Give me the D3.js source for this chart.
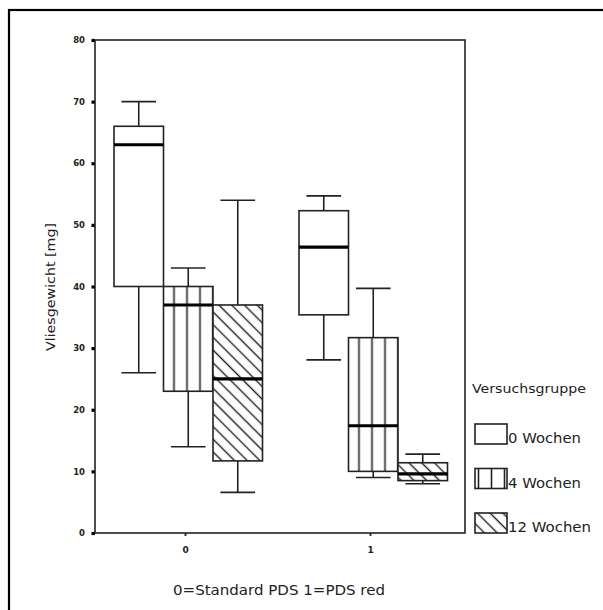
<!DOCTYPE html>
<html>
<head>
<meta charset="utf-8">
<script src="https://cdn.jsdelivr.net/npm/d3@7"></script>
<style>
  body { margin: 0; background: #fff; }
  svg { display: block; }
  text { font-family: "DejaVu Sans", sans-serif; fill: #222; }
</style>
</head>
<body>
<figure id="boxChart" style="margin:0"></figure>
<script>
// groups on the x axis and the three test series
const groups = ['0', '1'];
const series = ['0 Wochen', '4 Wochen', '12 Wochen'];
const yTicks = [0, 10, 20, 30, 40, 50, 60, 70, 80];

// box statistics, one row per series, one value per group
const whiskerLow = [[26, 28.1], [14, 9], [6.6, 8]];
const q1 = [[40, 35.4], [23, 10], [11.7, 8.5]];
const median = [[63, 46.4], [37, 17.4], [25, 9.6]];
const q3 = [[66, 52.3], [40, 31.7], [37, 11.4]];
const whiskerHigh = [[70, 54.7], [43, 39.7], [54, 12.8]];

const W = 603, H = 610;
const plot = { left: 95, right: 465, top: 40, bottom: 533 };
const ink = '#222';

const svg = d3.select('figure#boxChart')
  .append('svg')
  .attr('width', W)
  .attr('height', H);

// fill patterns
const defs = svg.append('defs');
const vert = defs.append('pattern')
  .attr('id', 'vert')
  .attr('patternUnits', 'userSpaceOnUse')
  .attr('x', 4)
  .attr('width', 13)
  .attr('height', 20);
vert.append('rect').attr('width', 13).attr('height', 20).attr('fill', '#fff');
vert.append('line')
  .attr('x1', 6.5).attr('x2', 6.5).attr('y1', 0).attr('y2', 20)
  .attr('stroke', ink).attr('stroke-width', 1.6);

const hatch = defs.append('pattern')
  .attr('id', 'hatch')
  .attr('patternUnits', 'userSpaceOnUse')
  .attr('width', 9)
  .attr('height', 20)
  .attr('patternTransform', 'rotate(-45)');
hatch.append('rect').attr('width', 9).attr('height', 20).attr('fill', '#fff');
hatch.append('line')
  .attr('x1', 4.5).attr('x2', 4.5).attr('y1', 0).attr('y2', 20)
  .attr('stroke', ink).attr('stroke-width', 1.4);

const fills = ['#fff', 'url(#vert)', 'url(#hatch)'];

// outer frame, runs off the right and bottom edge like the source picture
svg.append('rect')
  .attr('x', 9).attr('y', 10)
  .attr('width', W).attr('height', H)
  .attr('fill', 'none')
  .attr('stroke', '#000')
  .attr('stroke-width', 2.2);

// scales
const x0 = d3.scaleBand()
  .domain(groups)
  .range([plot.left, plot.right]);

const x1 = d3.scaleBand()
  .domain(series)
  .range([19, 167.5]);

const y = d3.scaleLinear()
  .domain([0, 80])
  .range([plot.bottom, plot.top]);

// y axis
const yAxis = svg.append('g')
  .attr('transform', 'translate(' + plot.left + ',0)')
  .call(d3.axisLeft(y).tickValues(yTicks).tickSize(3.5).tickPadding(6.5));
yAxis.select('.domain').remove();
yAxis.selectAll('.tick line').attr('stroke', '#000').attr('stroke-width', 3.2);
yAxis.selectAll('.tick text')
  .style('font-family', '"DejaVu Sans", sans-serif')
  .style('font-size', '8.5px')
  .style('font-weight', 'bold')
  .attr('fill', '#222');

// x axis
const xAxis = svg.append('g')
  .attr('transform', 'translate(-2,' + plot.bottom + ')')
  .call(d3.axisBottom(x0).tickSize(3).tickPadding(11));
xAxis.select('.domain').remove();
xAxis.selectAll('.tick line').attr('stroke', '#333').attr('stroke-width', 2);
xAxis.selectAll('.tick text')
  .style('font-family', '"DejaVu Sans", sans-serif')
  .style('font-size', '9px')
  .style('font-weight', 'bold')
  .attr('fill', '#222');

// plot frame
svg.append('rect')
  .attr('x', plot.left).attr('y', plot.top)
  .attr('width', plot.right - plot.left)
  .attr('height', plot.bottom - plot.top)
  .attr('fill', 'none')
  .attr('stroke', ink)
  .attr('stroke-width', 1.6);

// build one record per box
const boxes = [];
series.forEach((s, si) => {
  groups.forEach((g, gi) => {
    boxes.push({
      group: g, series: s, si,
      lo: whiskerLow[si][gi], q1: q1[si][gi], med: median[si][gi],
      q3: q3[si][gi], hi: whiskerHigh[si][gi]
    });
  });
});

const bw = x1.bandwidth();
const capW = bw * 0.7;

const box = svg.append('g')
  .selectAll('g')
  .data(boxes)
  .enter()
  .append('g')
  .attr('transform', d => 'translate(' + (x0(d.group) + x1(d.series)) + ',0)');

// whiskers
box.append('line')
  .attr('x1', bw / 2).attr('x2', bw / 2)
  .attr('y1', d => y(d.hi)).attr('y2', d => y(d.q3))
  .attr('stroke', ink).attr('stroke-width', 1.6);
box.append('line')
  .attr('x1', bw / 2).attr('x2', bw / 2)
  .attr('y1', d => y(d.q1)).attr('y2', d => y(d.lo))
  .attr('stroke', ink).attr('stroke-width', 1.6);
box.append('line')
  .attr('x1', (bw - capW) / 2).attr('x2', (bw + capW) / 2)
  .attr('y1', d => y(d.hi)).attr('y2', d => y(d.hi))
  .attr('stroke', ink).attr('stroke-width', 1.6);
box.append('line')
  .attr('x1', (bw - capW) / 2).attr('x2', (bw + capW) / 2)
  .attr('y1', d => y(d.lo)).attr('y2', d => y(d.lo))
  .attr('stroke', ink).attr('stroke-width', 1.6);

// boxes
box.append('rect')
  .attr('x', 0)
  .attr('y', d => y(d.q3))
  .attr('width', bw)
  .attr('height', d => y(d.q1) - y(d.q3))
  .attr('fill', d => fills[d.si])
  .attr('stroke', ink)
  .attr('stroke-width', 1.6);

// medians
box.append('line')
  .attr('x1', 0).attr('x2', bw)
  .attr('y1', d => y(d.med)).attr('y2', d => y(d.med))
  .attr('stroke', '#000').attr('stroke-width', 3.2);

// axis titles
svg.append('text')
  .attr('transform', 'translate(55,287) rotate(-90)')
  .attr('text-anchor', 'middle')
  .attr('textLength', 128)
  .attr('lengthAdjust', 'spacingAndGlyphs')
  .style('font-size', '13px')
  .text('Vliesgewicht [mg]');

svg.append('text')
  .attr('x', 279).attr('y', 595)
  .attr('text-anchor', 'middle')
  .attr('textLength', 212)
  .attr('lengthAdjust', 'spacingAndGlyphs')
  .style('font-size', '14px')
  .text('0=Standard PDS 1=PDS red');

// legend
const legend = svg.append('g');
legend.append('text')
  .attr('x', 472).attr('y', 393)
  .attr('textLength', 114)
  .attr('lengthAdjust', 'spacingAndGlyphs')
  .style('font-size', '13px')
  .text('Versuchsgruppe');

const legendY = d3.scalePoint()
  .domain(series)
  .range([424, 513]);
const legendW = [73, 73, 83];

const item = legend.selectAll('g')
  .data(series)
  .enter()
  .append('g')
  .attr('transform', d => 'translate(0,' + legendY(d) + ')');
item.append('rect')
  .attr('x', 475).attr('y', 0)
  .attr('width', 32).attr('height', 20)
  .attr('fill', (d, i) => fills[i])
  .attr('stroke', ink)
  .attr('stroke-width', 1.6);
item.append('text')
  .attr('x', 508).attr('y', 19)
  .attr('textLength', (d, i) => legendW[i])
  .attr('lengthAdjust', 'spacingAndGlyphs')
  .style('font-size', '13.5px')
  .text(d => d);
</script>
</body>
</html>
